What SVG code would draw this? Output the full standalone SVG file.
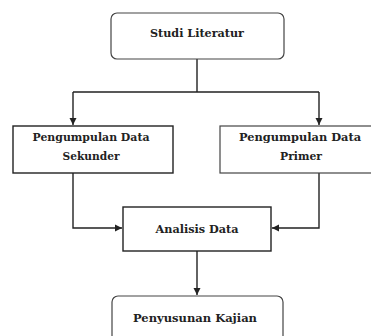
<svg xmlns="http://www.w3.org/2000/svg" width="371" height="336" viewBox="0 0 371 336">
<style>
text{font-family:"DejaVu Serif","Liberation Serif",serif;font-weight:bold;font-size:11px;fill:#222;text-anchor:middle}
.rbox{fill:#fff;stroke:#444;stroke-width:1.2}
.box{fill:#fff;stroke:#222;stroke-width:1.4}
.conn{fill:none;stroke:#222;stroke-width:1.4}
</style>
<defs>
<marker id="ah" markerWidth="8" markerHeight="8" refX="7" refY="4" orient="auto" markerUnits="userSpaceOnUse">
<path d="M0,0.5 L7,4 L0,7.5 Z" fill="#222"/>
</marker>
</defs>
<rect width="371" height="336" fill="#fff"/>
<g id="connectors">
<path class="conn" d="M197,59 V92 M73,92 H319"/>
<path class="conn" d="M73,92 V125" marker-end="url(#ah)"/>
<path class="conn" d="M319,92 V125" marker-end="url(#ah)"/>
<path class="conn" d="M73,173 V228 H122" marker-end="url(#ah)"/>
<path class="conn" d="M319,173 V228 H272" marker-end="url(#ah)"/>
<path class="conn" d="M197,251 V295" marker-end="url(#ah)"/>
</g>
<g id="studi-literatur">
<rect class="rbox" x="111" y="13" width="173" height="46" rx="6"/>
<text x="197" y="37" textLength="94" lengthAdjust="spacingAndGlyphs">Studi Literatur</text>
</g>
<g id="pengumpulan-sekunder">
<rect class="box" x="13" y="126" width="160" height="47"/>
<text x="91" y="141" textLength="117" lengthAdjust="spacingAndGlyphs">Pengumpulan Data</text>
<text x="91" y="160" textLength="57" lengthAdjust="spacingAndGlyphs">Sekunder</text>
</g>
<g id="pengumpulan-primer">
<rect class="rbox" x="220" y="126" width="160" height="47"/>
<text x="300" y="141" textLength="122" lengthAdjust="spacingAndGlyphs">Pengumpulan Data</text>
<text x="301" y="160" textLength="42" lengthAdjust="spacingAndGlyphs">Primer</text>
</g>
<g id="analisis-data">
<rect class="box" x="123" y="207" width="148" height="44"/>
<text x="197" y="233" textLength="83" lengthAdjust="spacingAndGlyphs">Analisis Data</text>
</g>
<g id="penyusunan-kajian">
<rect class="rbox" x="112" y="296" width="171" height="50" rx="6"/>
<text x="195" y="322" textLength="124" lengthAdjust="spacingAndGlyphs">Penyusunan Kajian</text>
</g>
</svg>
